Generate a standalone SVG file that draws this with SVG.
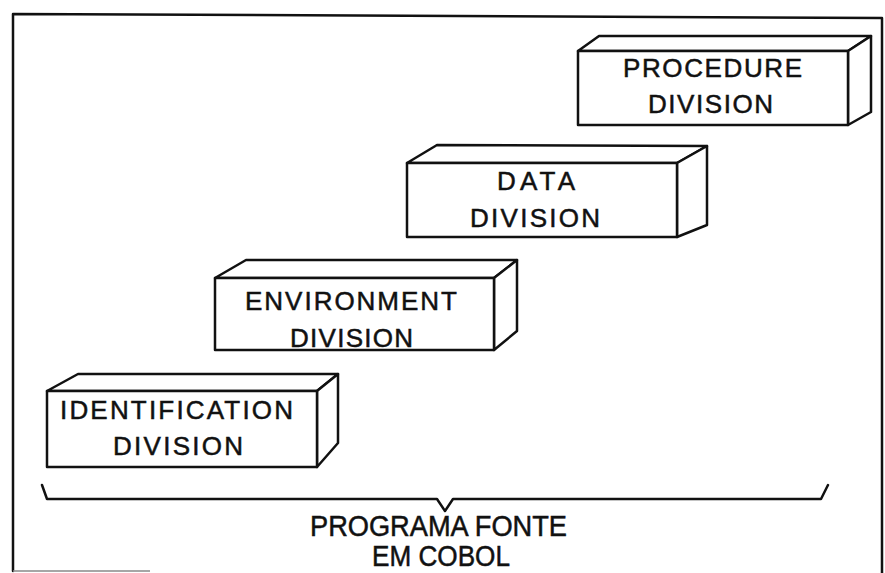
<svg xmlns="http://www.w3.org/2000/svg" width="885" height="573" viewBox="0 0 885 573">
<style>
.box{fill:#fff;stroke:#111;stroke-width:2.5;stroke-linejoin:round}
.lbl{font-family:"Liberation Sans",Arial,sans-serif;font-size:26px;fill:#111;stroke:#111;stroke-width:0.5}
.cap{font-family:"Liberation Sans",Arial,sans-serif;font-size:29px;fill:#111;stroke:#111;stroke-width:0.5}
.ln{fill:none;stroke:#111;stroke-width:2.5;stroke-linejoin:round;stroke-linecap:round}
</style>
<rect width="885" height="573" fill="#fff"/>
<g id="frame">
<path class="ln" d="M13,571 L13,14 L882,18 L882,573"/>
<line x1="13" y1="571" x2="150" y2="571" stroke="#888" stroke-width="1.5"/>
</g>
<g id="identification">
<polygon class="box" points="47,391 78,374 338,374 317,391"/>
<polygon class="box" points="317,391 338,374 338,443 317,467"/>
<rect class="box" x="47" y="391" width="270" height="76"/>
<text class="lbl" x="60" y="419" textLength="233" lengthAdjust="spacing">IDENTIFICATION</text>
<text class="lbl" x="113" y="455" textLength="130" lengthAdjust="spacing">DIVISION</text>
</g>
<g id="environment">
<polygon class="box" points="215,278 246,260 517,260 494,278"/>
<polygon class="box" points="494,278 517,260 517,331 494,350"/>
<rect class="box" x="215" y="278" width="279" height="72"/>
<text class="lbl" x="245" y="310" textLength="212" lengthAdjust="spacing">ENVIRONMENT</text>
<text class="lbl" x="290" y="347" textLength="123" lengthAdjust="spacing">DIVISION</text>
</g>
<g id="data">
<polygon class="box" points="407,163 437,145 707,146 677,163"/>
<polygon class="box" points="677,163 707,146 707,225 677,237"/>
<rect class="box" x="407" y="163" width="270" height="74"/>
<text class="lbl" x="497" y="190" textLength="78" lengthAdjust="spacing">DATA</text>
<text class="lbl" x="470" y="227" textLength="130" lengthAdjust="spacing">DIVISION</text>
</g>
<g id="procedure">
<polygon class="box" points="578,51 599,36 871,36 848,51"/>
<polygon class="box" points="848,51 871,36 871,112 848,125"/>
<rect class="box" x="578" y="51" width="270" height="74"/>
<text class="lbl" x="623" y="77" textLength="179" lengthAdjust="spacing">PROCEDURE</text>
<text class="lbl" x="648" y="113" textLength="125" lengthAdjust="spacing">DIVISION</text>
</g>
<g id="connectors">
<path class="ln" d="M42,485 L47,499 L437,499 L445,511 L453,499 L821,499 L828,485"/>
</g>
<g id="caption">
<text class="cap" x="310" y="536" textLength="257" lengthAdjust="spacingAndGlyphs">PROGRAMA FONTE</text>
<text class="cap" x="372" y="566" textLength="138" lengthAdjust="spacingAndGlyphs">EM COBOL</text>
</g>
</svg>
